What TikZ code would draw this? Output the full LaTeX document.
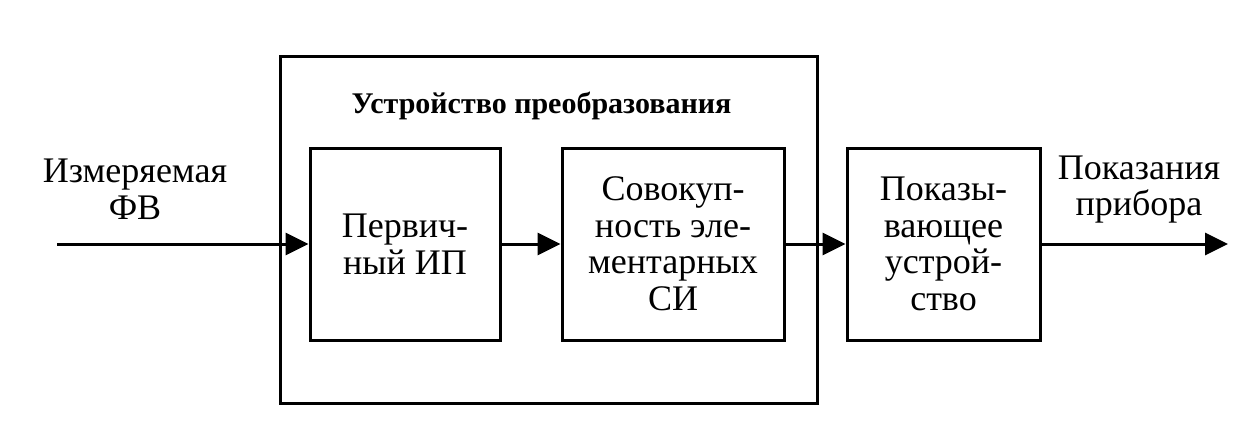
\documentclass[tikz,border=0pt]{standalone}
\usepackage{fontspec}
\setmainfont{Liberation Serif}
\usetikzlibrary{arrows.meta}
\newcommand\fsz{\fontsize{36}{36.5}\selectfont}
\begin{document}
\begin{tikzpicture}[x=1pt,y=-1pt,
  blk/.style={draw, line width=3pt, inner sep=0pt, align=center, font=\fsz},
  lbl/.style={inner sep=0pt, align=center, font=\fsz},
  arr/.style={line width=3pt, -{Triangle[length=23pt,width=22pt]}}]
\useasboundingbox (0,0) rectangle (1259,439);
\node[draw, line width=3pt, minimum width=537pt, minimum height=347pt, inner sep=0pt] (outer) at (548.5,229.5) {};
\node[font=\bfseries\fontsize{30}{33}\selectfont, anchor=base, inner sep=0pt] (title) at (541.5,113) {Устройство преобразования};
\node[blk, minimum width=190pt, minimum height=192pt] (b1) at (405,244) {Первич-\\ный ИП};
\node[blk, minimum width=222pt, minimum height=192pt] (b2) at (673,244) {Совокуп-\\ность эле-\\ментарных\\СИ};
\node[blk, minimum width=193pt, minimum height=192pt] (b3) at (943.5,244) {Показы-\\вающее\\устрой-\\ство};
\node[lbl] (inlbl) at (135,189.5) {Измеряемая\\ФВ};
\node[lbl] (outlbl) at (1139,189.5) {Показания\\прибора};
\coordinate (in) at (57,244);
\coordinate (out) at (1228,244);
\draw[arr] (in) -- (b1.west);
\draw[arr] (b1.east) -- (b2.west);
\draw[arr] (b2.east) -- (b3.west);
\draw[arr] (b3.east) -- (out);
\end{tikzpicture}
\end{document}
